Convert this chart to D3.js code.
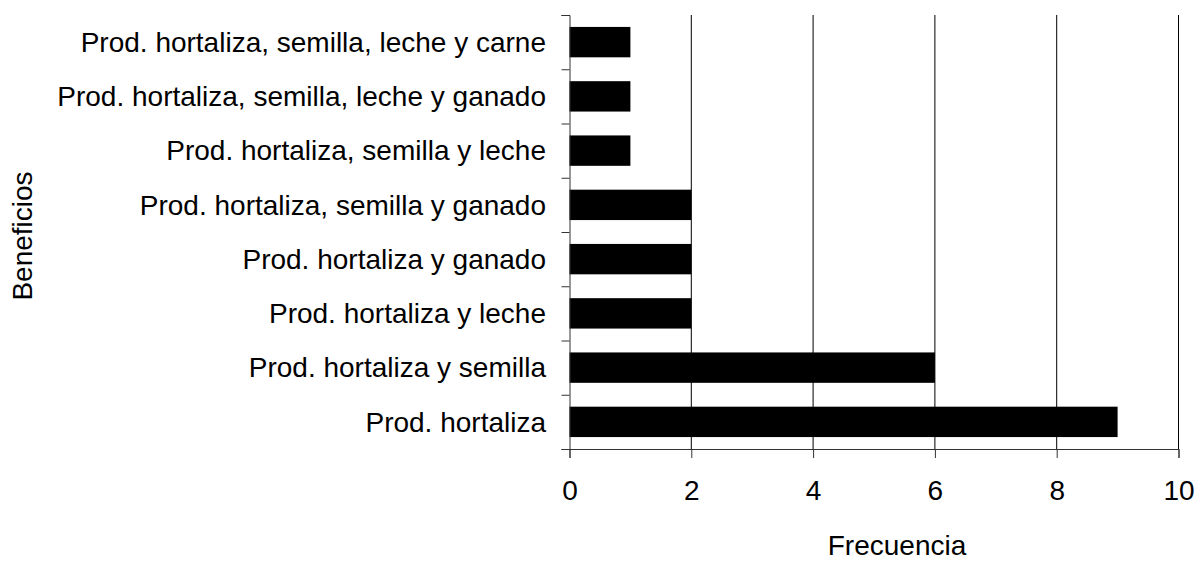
<!DOCTYPE html>
<html>
<head>
<meta charset="utf-8">
<script src="https://cdn.jsdelivr.net/npm/d3@7"></script>
<style>
  body { margin: 0; background: #fff; }
  text { font-family: "Liberation Sans", Arial, sans-serif; fill: #000; }
</style>
</head>
<body>
<div id="chart"></div>
<script>
// Categories top to bottom, with their frequencies
var categories = [
  "Prod. hortaliza, semilla, leche y carne",
  "Prod. hortaliza, semilla, leche y ganado",
  "Prod. hortaliza, semilla y leche",
  "Prod. hortaliza, semilla y ganado",
  "Prod. hortaliza y ganado",
  "Prod. hortaliza y leche",
  "Prod. hortaliza y semilla",
  "Prod. hortaliza"
];
var frequencies = [1, 1, 1, 2, 2, 2, 6, 9];
var xTicks = [0, 2, 4, 6, 8, 10];

var width = 1196;
var height = 561;
// plot area edges
var plotLeft = 569.5, plotRight = 1178.5, plotTop = 15, plotBottom = 449;
var fontSize = 28;

var svg = d3.select("#chart")
    .append("svg")
    .attr("width", width)
    .attr("height", height);

var xScale = d3.scaleLinear()
    .domain([0, 10])
    .range([plotLeft, plotRight]);

var yScale = d3.scaleBand()
    .domain(categories)
    .range([plotTop, plotBottom])
    .paddingInner(0.44)
    .paddingOuter(0.22);

// boundaries between categories (for the y ticks)
var yEdges = d3.scaleLinear()
    .domain([0, categories.length])
    .range([plotBottom, plotTop]);

// Vertical gridlines
svg.append("g")
    .selectAll("line")
    .data(xTicks.filter(function(d) { return d > 0; }))
    .enter()
    .append("line")
    .attr("x1", function(d) { return xScale(d); })
    .attr("x2", function(d) { return xScale(d); })
    .attr("y1", plotTop)
    .attr("y2", plotBottom)
    .attr("stroke", "#000")
    .attr("stroke-width", 1);

// Bars
svg.append("g")
    .selectAll("rect")
    .data(categories)
    .enter()
    .append("rect")
    .attr("x", xScale(0))
    .attr("y", function(d) { return yScale(d); })
    .attr("width", function(d, i) { return xScale(frequencies[i]) - xScale(0); })
    .attr("height", yScale.bandwidth())
    .attr("fill", "#000");

// x axis
var xAxis = d3.axisBottom(xScale)
    .tickValues(xTicks)
    .tickSize(9)
    .tickPadding(0)
    .tickFormat(d3.format("d"));

var gx = svg.append("g")
    .attr("transform", "translate(0," + plotBottom + ")")
    .call(xAxis);
gx.select(".domain").attr("stroke", "#333");
gx.selectAll(".tick line").attr("stroke", "#333");
gx.selectAll(".tick text")
    .attr("y", 51)
    .attr("dy", null)
    .style("font-size", fontSize + "px")
    .style("font-family", "Liberation Sans, Arial, sans-serif");

// y axis (ticks at category boundaries)
var yAxis = d3.axisLeft(yEdges)
    .tickValues(d3.range(categories.length + 1))
    .tickSize(8)
    .tickFormat("");

var gy = svg.append("g")
    .attr("transform", "translate(" + plotLeft + ",0)")
    .call(yAxis);
gy.select(".domain").attr("stroke", "#333");
gy.selectAll(".tick line").attr("stroke", "#333");

// Category labels
svg.append("g")
    .selectAll("text")
    .data(categories)
    .enter()
    .append("text")
    .attr("x", 546)
    .attr("y", function(d) { return yScale(d) + yScale.bandwidth() / 2; })
    .attr("dy", "0.35em")
    .attr("text-anchor", "end")
    .style("font-size", fontSize + "px")
    .text(function(d) { return d; });

// Axis titles
svg.append("text")
    .attr("x", 897)
    .attr("y", 555)
    .attr("text-anchor", "middle")
    .style("font-size", fontSize + "px")
    .text("Frecuencia");

svg.append("text")
    .attr("transform", "translate(32,236) rotate(-90)")
    .attr("text-anchor", "middle")
    .style("font-size", fontSize + "px")
    .text("Beneficios");
</script>
</body>
</html>
